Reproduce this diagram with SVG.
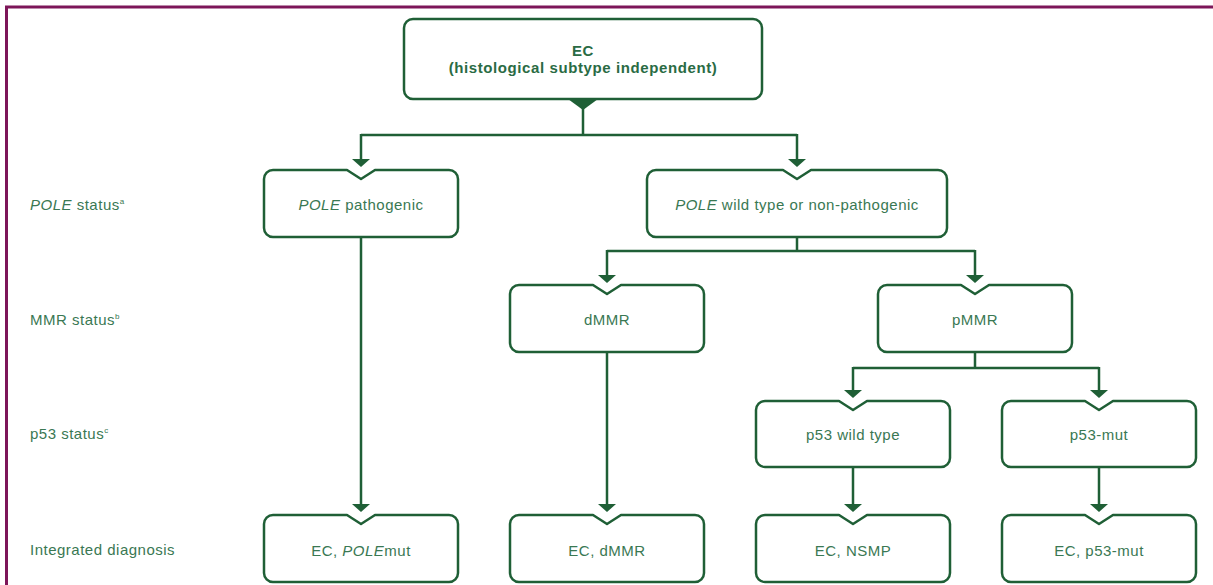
<svg xmlns="http://www.w3.org/2000/svg" width="1213" height="585" viewBox="0 0 1213 585">
<style>
.box{fill:#fff;stroke:#1f5f36;stroke-width:2.5;stroke-linejoin:round}
.ln{fill:none;stroke:#1f5f36;stroke-width:2.5}
.arr{marker-end:url(#ah)}
.t{font-family:"Liberation Sans",Arial,sans-serif;font-size:15px;letter-spacing:0.5px;fill:#3a7853;text-anchor:middle}
.lbl{font-family:"Liberation Sans",Arial,sans-serif;font-size:15px;letter-spacing:0.5px;fill:#3a7853}
.b{font-weight:bold;letter-spacing:0.6px;fill:#2a6b44}
.i{font-style:italic}
.sup{font-size:8px}
</style>
<defs>
<marker id="ah" markerUnits="userSpaceOnUse" markerWidth="10" markerHeight="20" refX="4" refY="9" orient="auto" viewBox="0 0 10 20">
<path d="M0,0 L8,9 L0,18 z" fill="#1f5f36"/>
</marker>
</defs>
<g id="frame">
<path d="M6.5,585 L6.5,7 L1213,7" fill="none" stroke="#7d1659" stroke-width="3"/>
</g>
<g id="row-labels">
<text class="lbl" x="30" y="210"><tspan class="i">POLE</tspan> status<tspan class="sup" dy="-6">a</tspan></text>
<text class="lbl" x="30" y="325">MMR status<tspan class="sup" dy="-6">b</tspan></text>
<text class="lbl" x="30" y="439">p53 status<tspan class="sup" dy="-6">c</tspan></text>
<text class="lbl" x="30" y="555">Integrated diagnosis</text>
</g>
<g id="connectors">
<path d="M568,99 L598,99 L583,110 z" fill="#1f5f36"/>
<path class="ln" d="M583,108 L583,135 M361,135 L797,135"/>
<path class="ln arr" d="M361,134 L361,163"/>
<path class="ln arr" d="M797,134 L797,163"/>
<path class="ln" d="M797,237 L797,251 M607,251 L975,251"/>
<path class="ln arr" d="M607,250 L607,279"/>
<path class="ln arr" d="M975,250 L975,279"/>
<path class="ln" d="M975,352 L975,368 M853,368 L1099,368"/>
<path class="ln arr" d="M853,367 L853,394"/>
<path class="ln arr" d="M1099,367 L1099,394"/>
<path class="ln arr" d="M361,237 L361,508"/>
<path class="ln arr" d="M607,352 L607,508"/>
<path class="ln arr" d="M853,467 L853,508"/>
<path class="ln arr" d="M1099,467 L1099,508"/>
</g>
<g id="node-ec">
<rect class="box" x="404" y="19" width="358" height="80" rx="9"/>
<text class="t b" x="583" y="56">EC</text>
<text class="t b" x="583" y="73">(histological subtype independent)</text>
</g>
<g id="node-pole-path">
<path class="box" d="M273,170 L347,170 L361,179 L375,170 L449,170 A9,9 0 0 1 458,179 L458,228 A9,9 0 0 1 449,237 L273,237 A9,9 0 0 1 264,228 L264,179 A9,9 0 0 1 273,170 z"/>
<text class="t" x="361" y="210"><tspan class="i">POLE</tspan> pathogenic</text>
</g>
<g id="node-pole-wt">
<path class="box" d="M656,170 L783,170 L797,179 L811,170 L938,170 A9,9 0 0 1 947,179 L947,228 A9,9 0 0 1 938,237 L656,237 A9,9 0 0 1 647,228 L647,179 A9,9 0 0 1 656,170 z"/>
<text class="t" x="797" y="210"><tspan class="i">POLE</tspan> wild type or non-pathogenic</text>
</g>
<g id="node-dmmr">
<path class="box" d="M519,285 L593,285 L607,294 L621,285 L695,285 A9,9 0 0 1 704,294 L704,343 A9,9 0 0 1 695,352 L519,352 A9,9 0 0 1 510,343 L510,294 A9,9 0 0 1 519,285 z"/>
<text class="t" x="607" y="325">dMMR</text>
</g>
<g id="node-pmmr">
<path class="box" d="M887,285 L961,285 L975,294 L989,285 L1063,285 A9,9 0 0 1 1072,294 L1072,343 A9,9 0 0 1 1063,352 L887,352 A9,9 0 0 1 878,343 L878,294 A9,9 0 0 1 887,285 z"/>
<text class="t" x="975" y="325">pMMR</text>
</g>
<g id="node-p53wt">
<path class="box" d="M765,401 L839,401 L853,410 L867,401 L941,401 A9,9 0 0 1 950,410 L950,458 A9,9 0 0 1 941,467 L765,467 A9,9 0 0 1 756,458 L756,410 A9,9 0 0 1 765,401 z"/>
<text class="t" x="853" y="440">p53 wild type</text>
</g>
<g id="node-p53mut">
<path class="box" d="M1011,401 L1085,401 L1099,410 L1113,401 L1187,401 A9,9 0 0 1 1196,410 L1196,458 A9,9 0 0 1 1187,467 L1011,467 A9,9 0 0 1 1002,458 L1002,410 A9,9 0 0 1 1011,401 z"/>
<text class="t" x="1099" y="440">p53-mut</text>
</g>
<g id="node-ec-polemut">
<path class="box" d="M273,515 L347,515 L361,524 L375,515 L449,515 A9,9 0 0 1 458,524 L458,573 A9,9 0 0 1 449,582 L273,582 A9,9 0 0 1 264,573 L264,524 A9,9 0 0 1 273,515 z"/>
<text class="t" x="361" y="556">EC, <tspan class="i">POLE</tspan>mut</text>
</g>
<g id="node-ec-dmmr">
<path class="box" d="M519,515 L593,515 L607,524 L621,515 L695,515 A9,9 0 0 1 704,524 L704,573 A9,9 0 0 1 695,582 L519,582 A9,9 0 0 1 510,573 L510,524 A9,9 0 0 1 519,515 z"/>
<text class="t" x="607" y="556">EC, dMMR</text>
</g>
<g id="node-ec-nsmp">
<path class="box" d="M765,515 L839,515 L853,524 L867,515 L941,515 A9,9 0 0 1 950,524 L950,573 A9,9 0 0 1 941,582 L765,582 A9,9 0 0 1 756,573 L756,524 A9,9 0 0 1 765,515 z"/>
<text class="t" x="853" y="556">EC, NSMP</text>
</g>
<g id="node-ec-p53mut">
<path class="box" d="M1011,515 L1085,515 L1099,524 L1113,515 L1187,515 A9,9 0 0 1 1196,524 L1196,573 A9,9 0 0 1 1187,582 L1011,582 A9,9 0 0 1 1002,573 L1002,524 A9,9 0 0 1 1011,515 z"/>
<text class="t" x="1099" y="556">EC, p53-mut</text>
</g>
</svg>
